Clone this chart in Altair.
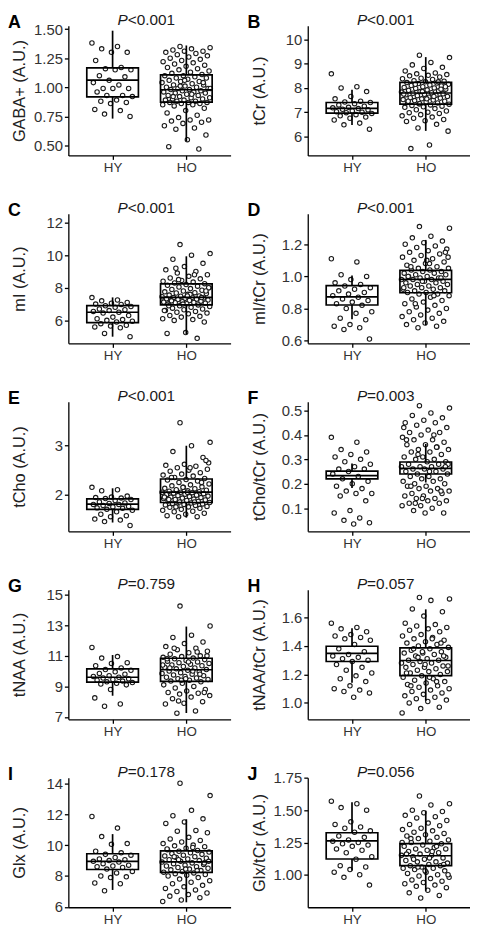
import altair as alt
import pandas as pd

GROUPS = ["HY", "HO"]
LETTERS = ["A", "B", "C", "D", "E", "F", "G", "H", "I", "J"]
YTITLES = ["GABA+ (A.U.)", "tCr (A.U.)", "mI (A.U.)", "mI/tCr (A.U.)", "tCho (A.U.)",
           "tCho/tCr (A.U.)", "tNAA (A.U.)", "tNAA/tCr (A.U.)", "Glx (A.U.)", "Glx/tCr (A.U.)"]
PVALS = ["<0.001", "<0.001", "<0.001", "<0.001", "<0.001",
         "=0.003", "=0.759", "=0.057", "=0.178", "=0.056"]

YDOMAINS = [[0.415, 1.528], [5.22, 10.56], [4.59, 12.54], [0.583, 1.39], [1.25, 3.9],
            [0.005, 0.536], [6.85, 15.32], [0.885, 1.795], [5.98, 14.36], [0.748, 1.752]]
YTICKS = [[0.50, 0.75, 1.00, 1.25, 1.50], [6, 7, 8, 9, 10], [6, 8, 10, 12], [0.6, 0.8, 1.0, 1.2],
          [2, 3], [0.1, 0.2, 0.3, 0.4, 0.5], [7, 9, 11, 13, 15], [1.0, 1.2, 1.4, 1.6],
          [6, 8, 10, 12, 14], [1.00, 1.25, 1.50, 1.75]]
YFORMATS = [".2f", "d", "d", ".1f", "d", ".1f", "d", ".1f", "d", ".2f"]

# box statistics: q1, median, q3, lower whisker, upper whisker
BOX_HY = [[0.917, 1.061, 1.167, 0.731, 1.486], [6.96, 7.16, 7.40, 6.47, 7.93],
          [5.86, 6.50, 6.91, 5.00, 7.41], [0.822, 0.873, 0.943, 0.733, 1.006],
          [1.70, 1.807, 1.913, 1.43, 2.13], [0.220, 0.233, 0.252, 0.183, 0.283],
          [9.28, 9.60, 10.14, 8.39, 11.05], [1.291, 1.348, 1.398, 1.142, 1.524],
          [8.42, 8.95, 9.44, 7.10, 10.71], [1.122, 1.262, 1.325, 1.033, 1.562]]
BOX_HO = [[0.872, 0.979, 1.106, 0.537, 1.359], [7.33, 7.79, 8.23, 6.23, 9.27],
          [6.95, 7.41, 8.24, 5.15, 9.93], [0.898, 0.982, 1.037, 0.696, 1.227],
          [1.84, 2.053, 2.32, 1.53, 3.00], [0.240, 0.263, 0.289, 0.205, 0.363],
          [9.33, 10.09, 10.84, 7.26, 12.91], [1.192, 1.298, 1.387, 1.016, 1.657],
          [8.23, 8.91, 9.63, 6.30, 11.67], [1.071, 1.147, 1.241, 0.875, 1.496]]

A_HY = [1.38, 1.35, 1.33, 1.30, 1.30, 1.23, 1.17, 1.16, 1.15, 1.15, 1.10, 1.09, 1.06, 1.04, 1.02,
        0.99, 0.99, 0.99, 0.96, 0.93, 0.93, 0.92, 0.89, 0.88, 0.87, 0.86, 0.81, 0.80, 0.77, 0.75]
A_HO = [1.35, 1.34, 1.33, 1.32, 1.31, 1.31, 1.30, 1.29, 1.28, 1.27, 1.26, 1.25, 1.24, 1.23, 1.22,
        1.21, 1.20, 1.19, 1.18, 1.17, 1.16, 1.15, 1.14, 1.13, 1.12, 1.11, 1.10, 1.10, 1.09, 1.08,
        1.08, 1.07, 1.06, 1.05, 1.05, 1.04, 1.03, 1.02, 1.02, 1.01, 1.00, 1.00, 0.99, 0.99, 0.98,
        0.98, 0.97, 0.97, 0.96, 0.96, 0.95, 0.95, 0.94, 0.93, 0.93, 0.92, 0.91, 0.91, 0.90, 0.90,
        0.89, 0.89, 0.88, 0.88, 0.87, 0.87, 0.87, 0.86, 0.86, 0.85, 0.85, 0.84, 0.82, 0.80, 0.78,
        0.76, 0.74, 0.72, 0.72, 0.71, 0.70, 0.69, 0.67, 0.65, 0.64, 0.59, 0.55, 0.49, 0.47, 1.01,
        0.99, 0.94, 0.92, 1.04, 1.06]
B_HY = [8.58, 8.05, 8.00, 7.85, 7.65, 7.55, 7.45, 7.42, 7.40, 7.35, 7.30, 7.25, 7.20, 7.18, 7.15,
        7.12, 7.10, 7.05, 7.02, 7.00, 6.98, 6.95, 6.90, 6.85, 6.80, 6.75, 6.68, 6.55, 6.48, 6.30]
B_HO = [9.35, 9.25, 9.05, 8.95, 8.85, 8.80, 8.70, 8.62, 8.58, 8.55, 8.52, 8.50, 8.45, 8.40, 8.38,
        8.35, 8.30, 8.28, 8.25, 8.22, 8.20, 8.18, 8.15, 8.12, 8.10, 8.08, 8.05, 8.02, 8.00, 7.98,
        7.95, 7.92, 7.90, 7.88, 7.85, 7.83, 7.80, 7.78, 7.76, 7.74, 7.72, 7.70, 7.68, 7.65, 7.62,
        7.60, 7.58, 7.55, 7.52, 7.50, 7.48, 7.45, 7.42, 7.40, 7.38, 7.35, 7.33, 7.30, 7.28, 7.25,
        7.22, 7.20, 7.15, 7.10, 7.05, 7.00, 6.98, 6.95, 6.90, 6.85, 6.80, 6.75, 6.70, 6.65, 6.62,
        6.50, 6.35, 6.22, 5.65, 5.50, 7.95, 7.85, 7.75, 7.65, 8.15, 8.05, 7.55, 7.45, 8.25, 7.35]
C_HY = [7.40, 7.25, 7.20, 7.10, 7.05, 7.00, 6.98, 6.90, 6.85, 6.80, 6.70, 6.65, 6.60, 6.55, 6.50,
        6.45, 6.30, 6.20, 6.10, 6.05, 6.00, 5.95, 5.90, 5.80, 5.70, 5.65, 5.60, 5.55, 5.20, 5.00]
C_HO = [10.65, 10.10, 10.00, 9.75, 9.50, 9.30, 9.10, 9.00, 8.90, 8.80, 8.70, 8.60, 8.55, 8.45, 8.40,
        8.35, 8.30, 8.25, 8.20, 8.15, 8.10, 8.05, 8.00, 7.95, 7.90, 7.85, 7.80, 7.75, 7.70, 7.68,
        7.65, 7.60, 7.55, 7.50, 7.48, 7.45, 7.42, 7.40, 7.38, 7.35, 7.32, 7.30, 7.28, 7.25, 7.22,
        7.20, 7.18, 7.15, 7.12, 7.10, 7.08, 7.05, 7.02, 7.00, 6.95, 6.90, 6.85, 6.80, 6.75, 6.70,
        6.65, 6.60, 6.55, 6.50, 6.45, 6.40, 6.30, 6.25, 6.20, 6.10, 6.05, 6.00, 5.90, 5.25, 5.20,
        4.90, 8.50, 8.00, 7.60, 7.20, 7.40, 7.00, 6.60, 8.80, 9.20, 7.80, 7.50, 6.90]
D_HY = [1.11, 1.09, 1.01, 1.00, 0.98, 0.96, 0.95, 0.94, 0.93, 0.92, 0.91, 0.90, 0.89, 0.88, 0.87,
        0.86, 0.85, 0.84, 0.83, 0.82, 0.80, 0.78, 0.77, 0.74, 0.73, 0.70, 0.69, 0.68, 0.67, 0.61]
D_HO = [1.31, 1.30, 1.25, 1.24, 1.22, 1.21, 1.20, 1.19, 1.18, 1.17, 1.16, 1.15, 1.14, 1.13, 1.12,
        1.11, 1.10, 1.09, 1.08, 1.07, 1.06, 1.05, 1.05, 1.04, 1.04, 1.03, 1.03, 1.02, 1.02, 1.01,
        1.01, 1.00, 1.00, 0.99, 0.99, 0.98, 0.98, 0.98, 0.97, 0.97, 0.96, 0.96, 0.95, 0.95, 0.94,
        0.94, 0.93, 0.93, 0.92, 0.92, 0.91, 0.91, 0.90, 0.90, 0.89, 0.89, 0.88, 0.87, 0.86, 0.85,
        0.84, 0.83, 0.82, 0.81, 0.80, 0.79, 0.78, 0.77, 0.76, 0.75, 0.74, 0.73, 0.72, 0.71, 0.70,
        0.69, 0.68, 1.12, 1.08, 1.06, 0.99, 0.97, 0.93, 0.88, 0.83, 1.15, 1.10, 1.00]
E_HY = [2.15, 2.10, 2.08, 1.97, 1.95, 1.94, 1.93, 1.92, 1.90, 1.88, 1.85, 1.83, 1.82, 1.80, 1.80,
        1.78, 1.76, 1.75, 1.73, 1.72, 1.70, 1.68, 1.65, 1.60, 1.57, 1.55, 1.50, 1.48, 1.45, 1.37]
E_HO = [3.47, 3.07, 3.00, 2.88, 2.76, 2.62, 2.60, 2.58, 2.55, 2.52, 2.50, 2.48, 2.45, 2.42, 2.40,
        2.38, 2.35, 2.33, 2.31, 2.30, 2.28, 2.25, 2.22, 2.20, 2.18, 2.16, 2.15, 2.13, 2.12, 2.10,
        2.09, 2.08, 2.07, 2.06, 2.05, 2.05, 2.04, 2.03, 2.02, 2.01, 2.00, 1.99, 1.98, 1.97, 1.96,
        1.95, 1.94, 1.93, 1.92, 1.91, 1.90, 1.89, 1.88, 1.87, 1.86, 1.85, 1.84, 1.83, 1.82, 1.81,
        1.80, 1.79, 1.78, 1.77, 1.76, 1.75, 1.74, 1.72, 1.70, 1.68, 1.66, 1.65, 1.62, 1.60, 1.57,
        1.55, 1.55, 2.65, 2.55, 2.35, 2.25, 2.15, 1.95, 1.85, 1.75, 2.70, 2.05, 1.90]
F_HY = [0.39, 0.37, 0.34, 0.33, 0.32, 0.31, 0.30, 0.29, 0.28, 0.27, 0.26, 0.26, 0.25, 0.24, 0.23,
        0.22, 0.21, 0.20, 0.19, 0.18, 0.17, 0.16, 0.16, 0.15, 0.13, 0.09, 0.08, 0.06, 0.05, 0.04,
        0.035]
F_HO = [0.52, 0.51, 0.49, 0.48, 0.47, 0.46, 0.45, 0.45, 0.44, 0.43, 0.42, 0.41, 0.41, 0.40, 0.39,
        0.38, 0.38, 0.37, 0.36, 0.36, 0.35, 0.34, 0.34, 0.33, 0.33, 0.32, 0.31, 0.31, 0.30, 0.30,
        0.29, 0.29, 0.28, 0.28, 0.27, 0.27, 0.27, 0.26, 0.26, 0.26, 0.25, 0.25, 0.24, 0.24, 0.23,
        0.23, 0.22, 0.22, 0.21, 0.21, 0.20, 0.20, 0.19, 0.19, 0.18, 0.18, 0.17, 0.17, 0.16, 0.16,
        0.15, 0.15, 0.14, 0.14, 0.13, 0.13, 0.12, 0.12, 0.11, 0.11, 0.10, 0.09, 0.08, 0.08, 0.38,
        0.35, 0.32, 0.28, 0.25, 0.19, 0.17, 0.14, 0.43, 0.40, 0.12, 0.27]
G_HY = [11.55, 10.95, 10.85, 10.55, 10.50, 10.35, 10.20, 10.10, 10.05, 9.95, 9.85, 9.80, 9.70, 9.65,
        9.60, 9.55, 9.50, 9.45, 9.40, 9.35, 9.30, 9.25, 9.20, 9.15, 9.10, 8.80, 8.25, 7.85, 7.70]
G_HO = [14.25, 12.95, 12.35, 12.20, 11.90, 11.80, 11.60, 11.50, 11.40, 11.30, 11.20, 11.10, 11.00,
        10.95, 10.90, 10.85, 10.80, 10.75, 10.70, 10.65, 10.60, 10.55, 10.50, 10.45, 10.40, 10.35,
        10.30, 10.25, 10.20, 10.15, 10.10, 10.05, 10.00, 9.95, 9.90, 9.85, 9.80, 9.75, 9.70, 9.65,
        9.60, 9.55, 9.50, 9.45, 9.40, 9.35, 9.30, 9.20, 9.10, 9.00, 8.90, 8.80, 8.70, 8.60, 8.55,
        8.50, 8.40, 8.30, 8.20, 8.00, 7.90, 7.85, 7.40, 7.25, 11.00, 10.60, 10.20, 9.80, 9.40, 10.40,
        10.00, 11.50, 8.60, 9.50, 10.80, 11.25, 8.05]
H_HY = [1.56, 1.53, 1.52, 1.50, 1.48, 1.47, 1.46, 1.45, 1.44, 1.41, 1.38, 1.36, 1.34, 1.33, 1.32,
        1.31, 1.30, 1.29, 1.27, 1.25, 1.23, 1.21, 1.19, 1.17, 1.15, 1.12, 1.10, 1.09, 1.08, 1.07,
        1.04]
H_HO = [1.74, 1.73, 1.72, 1.66, 1.64, 1.61, 1.56, 1.55, 1.54, 1.53, 1.52, 1.51, 1.50, 1.48, 1.47,
        1.46, 1.45, 1.44, 1.43, 1.42, 1.41, 1.40, 1.39, 1.38, 1.37, 1.36, 1.35, 1.35, 1.34, 1.33,
        1.32, 1.31, 1.30, 1.30, 1.29, 1.28, 1.28, 1.27, 1.26, 1.25, 1.25, 1.24, 1.23, 1.22, 1.22,
        1.21, 1.20, 1.19, 1.18, 1.17, 1.16, 1.15, 1.14, 1.13, 1.12, 1.11, 1.10, 1.09, 1.08, 1.07,
        1.06, 1.05, 1.04, 1.03, 1.02, 1.01, 1.00, 0.97, 0.96, 0.93, 1.45, 1.38, 1.33, 1.27, 1.21,
        1.15, 1.32, 1.26, 1.18, 1.12, 1.42, 1.36]
I_HY = [11.85, 11.10, 10.55, 10.10, 10.05, 9.60, 9.50, 9.40, 9.35, 9.20, 9.10, 9.05, 9.00, 8.95,
        8.90, 8.80, 8.70, 8.65, 8.60, 8.55, 8.45, 8.30, 8.20, 8.00, 7.95, 7.90, 7.55, 7.50, 7.05]
I_HO = [14.00, 13.20, 12.25, 11.90, 11.70, 11.50, 11.40, 10.95, 10.90, 10.80, 10.50, 10.40, 10.30,
        10.20, 10.10, 10.00, 9.95, 9.90, 9.80, 9.70, 9.65, 9.60, 9.55, 9.50, 9.45, 9.40, 9.35, 9.30,
        9.25, 9.20, 9.15, 9.10, 9.05, 9.00, 8.95, 8.90, 8.85, 8.80, 8.75, 8.70, 8.65, 8.60, 8.55,
        8.50, 8.45, 8.40, 8.35, 8.30, 8.25, 8.20, 8.15, 8.10, 8.05, 8.00, 7.90, 7.80, 7.70, 7.60,
        7.50, 7.40, 7.30, 7.20, 7.10, 7.00, 6.90, 6.80, 6.70, 6.60, 6.45, 6.35, 9.85, 9.25, 8.85,
        8.45, 9.75, 8.35, 9.05, 8.95]
J_HY = [1.57, 1.55, 1.52, 1.50, 1.41, 1.39, 1.37, 1.36, 1.34, 1.33, 1.30, 1.29, 1.27, 1.26, 1.25,
        1.24, 1.23, 1.22, 1.20, 1.19, 1.17, 1.14, 1.12, 1.07, 1.06, 1.04, 1.02, 1.00, 0.98, 0.92]
J_HO = [1.61, 1.55, 1.54, 1.50, 1.49, 1.48, 1.46, 1.45, 1.44, 1.42, 1.40, 1.39, 1.38, 1.36, 1.35,
        1.34, 1.33, 1.32, 1.31, 1.30, 1.29, 1.28, 1.27, 1.26, 1.25, 1.24, 1.23, 1.22, 1.21, 1.20,
        1.20, 1.19, 1.18, 1.17, 1.16, 1.15, 1.15, 1.14, 1.13, 1.12, 1.11, 1.10, 1.10, 1.09, 1.08,
        1.07, 1.07, 1.06, 1.05, 1.05, 1.04, 1.03, 1.02, 1.01, 1.00, 0.99, 0.98, 0.97, 0.96, 0.95,
        0.94, 0.93, 0.92, 0.91, 0.90, 0.88, 0.86, 0.84, 0.82, 1.25, 1.18, 1.12, 1.08, 1.03, 1.16,
        1.22, 1.06, 1.00, 1.13, 1.28]

VALUES = [(A_HY, A_HO), (B_HY, B_HO), (C_HY, C_HO), (D_HY, D_HO), (E_HY, E_HO),
          (F_HY, F_HO), (G_HY, G_HO), (H_HY, H_HO), (I_HY, I_HO), (J_HY, J_HO)]

# ---------------- layout / style ----------------
W, H = 164, 131
FONT = "Liberation Sans"
HALF_BOX = 0.35
JITTER = [0.56, 0.66]


def panel(i):
    rows = []
    for gi, vals in enumerate(VALUES[i]):
        for k, v in enumerate(vals):
            off = ((k * 0.6180339887 + 0.37 * gi) % 1.0 - 0.5) * JITTER[gi]
            rows.append({"xj": gi + 1 + off, "v": v})
    pts = pd.DataFrame(rows)
    box_rows = []
    for gi, st in enumerate((BOX_HY[i], BOX_HO[i])):
        box_rows.append({"pos": gi + 1, "xl": gi + 1 - HALF_BOX, "xr": gi + 1 + HALF_BOX,
                         "q1": st[0], "med": st[1], "q3": st[2], "lo": st[3], "hi": st[4]})
    box = pd.DataFrame(box_rows)

    xs = alt.Scale(domain=[0.4, 2.6], nice=False, zero=False)
    ys = alt.Scale(domain=YDOMAINS[i], nice=False, zero=False)
    xaxis = alt.Axis(values=[1, 2], labelExpr="datum.value == 1 ? 'HY' : 'HO'", title=None,
                     grid=False, labelFontSize=13.5, labelPadding=1)
    yaxis = alt.Axis(values=YTICKS[i], format=YFORMATS[i], title=YTITLES[i], grid=False,
                     titleX=-49, titleY=H / 2, titleAngle=270, titleAlign="center",
                     titleBaseline="middle", titleFontSize=16.5, labelFontSize=15,
                     labelPadding=2)

    def X(field):
        return alt.X(field, type="quantitative", scale=xs, axis=xaxis)

    def Y(field):
        return alt.Y(field, type="quantitative", scale=ys, axis=yaxis)

    points = alt.Chart(pts).mark_point(
        shape="circle", filled=True, fill="white", stroke="#1a1a1a", strokeWidth=1.1,
        size=20, opacity=1
    ).encode(x=X("xj"), y=Y("v"))
    rect = alt.Chart(box).mark_rect(fillOpacity=0, stroke="black", strokeWidth=1.7).encode(
        x=X("xl"), x2="xr", y=Y("q1"), y2="q3",
    )
    med = alt.Chart(box).mark_rule(color="black", strokeWidth=1.7).encode(
        x=X("xl"), x2="xr", y=Y("med"),
    )
    wh_hi = alt.Chart(box).mark_rule(color="black", strokeWidth=1.7).encode(
        x=X("pos"), y=Y("q3"), y2="hi",
    )
    wh_lo = alt.Chart(box).mark_rule(color="black", strokeWidth=1.7).encode(
        x=X("pos"), y=Y("lo"), y2="q1",
    )
    p_italic = alt.Chart(pd.DataFrame({"t": ["P"]})).mark_text(
        font=FONT, fontSize=15.5, fontStyle="italic", align="right", baseline="alphabetic",
        color="#1a1a1a"
    ).encode(x=alt.value(W / 2 - 22), y=alt.value(-0.5), text="t:N")
    p_rest = alt.Chart(pd.DataFrame({"t": [PVALS[i]]})).mark_text(
        font=FONT, fontSize=15.5, align="left", baseline="alphabetic", color="#1a1a1a"
    ).encode(x=alt.value(W / 2 - 22), y=alt.value(-0.5), text="t:N")
    letter = alt.Chart(pd.DataFrame({"t": [LETTERS[i]]})).mark_text(
        font=FONT, fontSize=18, fontWeight="bold", align="left", baseline="alphabetic",
        color="black"
    ).encode(x=alt.value(-61), y=alt.value(2), text="t:N")

    return alt.layer(points, rect, med, wh_hi, wh_lo, p_italic, p_rest, letter).properties(
        width=W, height=H
    )


rows = [alt.hconcat(panel(2 * r), panel(2 * r + 1), spacing=17) for r in range(5)]
chart = alt.vconcat(*rows, spacing=27).properties(padding=0, background="white").configure_view(
    strokeWidth=0
).configure_axis(
    domainColor="black", domainWidth=1.3, tickColor="black", tickWidth=1.3, tickSize=4,
    labelColor="#333333", titleColor="#222222", labelFont=FONT, titleFont=FONT,
    titleFontWeight="normal"
)

chart.save("out.html", embed_options={"renderer": "svg", "actions": False})
